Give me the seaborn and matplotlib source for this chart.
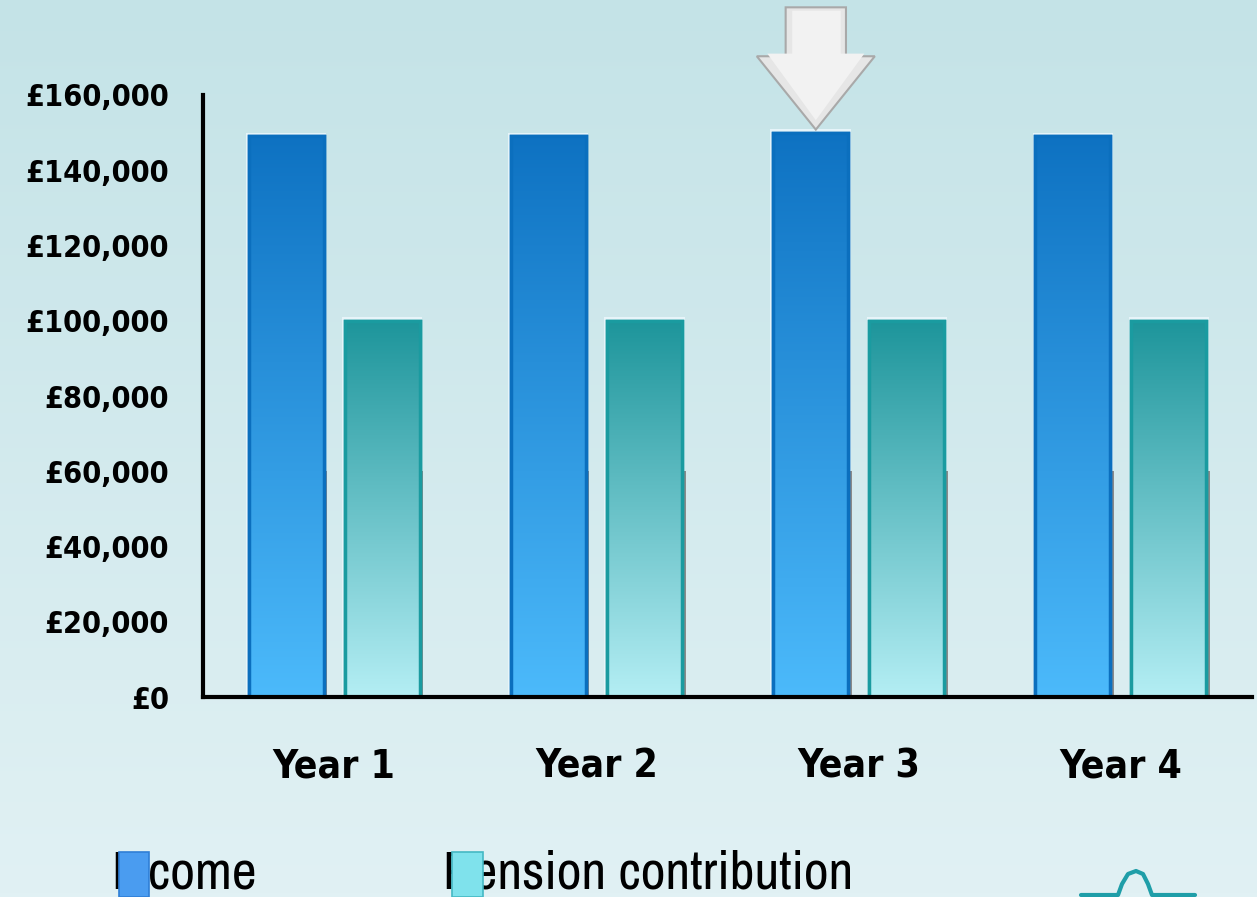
import matplotlib
matplotlib.use("Agg")
import matplotlib.pyplot as plt
import matplotlib.patches as mpatches
from matplotlib.colors import LinearSegmentedColormap, to_rgb
import numpy as np
import pandas as pd
import seaborn as sns

# ---- data ----
years = ["Year 1", "Year 2", "Year 3", "Year 4"]
income = [149000, 149000, 150000, 149000]
pension = [100000, 100000, 100000, 100000]
series_names = ["Income", "Pension contribution"]
ytick_values = [0, 20000, 40000, 60000, 80000, 100000, 120000, 140000, 160000]
highlight_year = "Year 3"

df = pd.DataFrame({
    "year": years * 2,
    "value": income + pension,
    "series": [series_names[0]] * len(years) + [series_names[1]] * len(years),
})

sns.set_theme(style="white")
plt.rcParams["font.family"] = ["DejaVu Sans"]
plt.rcParams["text.color"] = "black"

W, H = 1257, 897
fig = plt.figure(figsize=(W / 100, H / 100), dpi=100)

# background gradient
bg = fig.add_axes([0, 0, 1, 1], zorder=-10)
top_c = np.array(to_rgb("#c4e3e7"))
bot_c = np.array(to_rgb("#e1f1f4"))
t = np.linspace(0, 1, 256)[:, None]
grad = (top_c[None, :] * (1 - t) + bot_c[None, :] * t)[:, None, :]
bg.imshow(grad, aspect="auto", extent=[0, 1, 0, 1], origin="upper")
bg.set_axis_off()

ax = fig.add_axes([203 / W, (H - 697) / H, (1252 - 203) / W, (697 - 95) / H])
ax.patch.set_alpha(0)

sns.barplot(data=df, x="year", y="value", hue="series", order=years,
            hue_order=series_names, palette=["#2a8fe0", "#5fc0c8"],
            width=0.733, gap=0.22, ax=ax, legend=False, saturation=1)

ax.set_xlim(-0.5, len(years) - 0.5)
ax.set_ylim(0, 160000)

grad_specs = {
    series_names[0]: ("#0e72c2", "#4cbafb", "#0b6fbe"),
    series_names[1]: ("#1d959b", "#b4eef4", "#1a9ba0"),
}

bars = ax.patches[:]
n = len(years)
for i, p in enumerate(bars):
    s = series_names[i // n]
    ctop, cbot, cedge = grad_specs[s]
    x0, w = p.get_x(), p.get_width()
    h = p.get_height()
    cmap = LinearSegmentedColormap.from_list("g", [cbot, ctop])
    glow = mpatches.Rectangle((x0 - 0.01, 0), w + 0.02, h + 900,
                              facecolor="#eaf6fb", edgecolor="none", alpha=0.9, zorder=1.5)
    ax.add_patch(glow)
    sh = mpatches.Rectangle((x0 + w, 0), 0.014, 60000, facecolor="#8a8a8a",
                            edgecolor="none", zorder=1.6)
    ax.add_patch(sh)
    img = ax.imshow(np.linspace(0, 1, 256)[:, None], cmap=cmap, aspect="auto",
                    extent=[x0, x0 + w, 0, h], origin="lower", zorder=2.5)
    img.set_clip_path(p)
    p.set_zorder(2)
    p.set_edgecolor(cedge)
    p.set_linewidth(2.5)
    edge = mpatches.Rectangle((x0, 0), w, h, facecolor="none", edgecolor=cedge,
                              linewidth=2.5, zorder=2.6)
    ax.add_patch(edge)

ax.set_xlim(-0.5, len(years) - 0.5)
ax.set_ylim(0, 160000)

for sp in ["top", "right"]:
    ax.spines[sp].set_visible(False)
for sp in ["left", "bottom"]:
    ax.spines[sp].set_linewidth(3)
    ax.spines[sp].set_color("black")
    ax.spines[sp].set_zorder(5)

ax.set_yticks(ytick_values)
ax.set_yticklabels(["£{:,}".format(v) for v in ytick_values])
ax.tick_params(axis="y", direction="out", length=7.5, width=2.5, color="black",
               pad=17, labelsize=22, labelcolor="black")
for lab in ax.get_yticklabels():
    lab.set_fontweight("bold")
    lab.set_fontstretch("condensed")

ax.set_xticks(np.arange(-0.5, len(years), 1.0))
ax.set_xticklabels([])
ax.set_xticks(np.arange(len(years)), minor=True)
ax.set_xticklabels(years, minor=True)
ax.tick_params(axis="x", which="major", direction="out", length=9.5, width=2.5, color="black")
ax.tick_params(axis="x", which="minor", length=0, pad=36, labelsize=28, labelcolor="black")
for lab in ax.get_xticklabels(minor=True):
    lab.set_fontweight("bold")
    lab.set_fontstretch("condensed")
ax.set_xlabel("")
ax.set_ylabel("")
ax.grid(False)

# highlight arrow above Year 3 income bar
hi = years.index(highlight_year)
hb = bars[hi]
cx = hb.get_x() + hb.get_width() / 2 + 0.02
tip = hb.get_height() + 800
shaft_w, head_w = 0.115, 0.225
head_base = tip + 19500
top = tip + 32500
arrow_pts = [(cx, tip), (cx - head_w, head_base), (cx - shaft_w, head_base),
             (cx - shaft_w, top), (cx + shaft_w, top), (cx + shaft_w, head_base),
             (cx + head_w, head_base)]
arrow = mpatches.Polygon(arrow_pts, closed=True, facecolor="#e6e6e6",
                         edgecolor="#a9a9a9", linewidth=1.5, zorder=6, clip_on=False)
ax.add_patch(arrow)
inner = mpatches.Polygon([(cx, tip + 2500), (cx - head_w + 0.04, head_base + 700),
                          (cx - shaft_w + 0.025, head_base + 700), (cx - shaft_w + 0.025, top - 900),
                          (cx + shaft_w - 0.02, top - 900), (cx + shaft_w - 0.02, head_base + 700),
                          (cx + head_w - 0.04, head_base + 700)], closed=True,
                         facecolor="#f2f2f2", edgecolor="none", zorder=6.1, clip_on=False)
ax.add_patch(inner)

# legend (manual, at bottom)
leg_font = dict(family=["Archivo Narrow", "DejaVu Sans"], fontsize=39, color="black")
fig.text(111 / W, 9 / H, series_names[0], va="baseline", ha="left", **leg_font)
fig.text(443 / W, 9 / H, series_names[1], va="baseline", ha="left", **leg_font)
for (x0, x1), col, edgec in [((119, 149), "#4a9cf0", "#2f7fd6"), ((452, 483), "#7fe2ec", "#45b8c4")]:
    r = mpatches.Rectangle((x0 / W, 0), (x1 - x0) / W, 45 / H, transform=fig.transFigure,
                           facecolor=col, edgecolor=edgec, linewidth=1.2, zorder=20)
    fig.patches.append(r)

# partial logo at bottom right
lx = np.array([1081, 1118, 1122, 1128, 1136, 1143, 1148, 1152, 1195])
ly = np.array([895, 895, 884, 874, 871, 874, 884, 895, 895])
fig.add_artist(plt.Line2D(lx / W, (H - ly) / H, color="#1f9ea8", linewidth=3,
                          transform=fig.transFigure))

fig.savefig("out.png", dpi=100)
